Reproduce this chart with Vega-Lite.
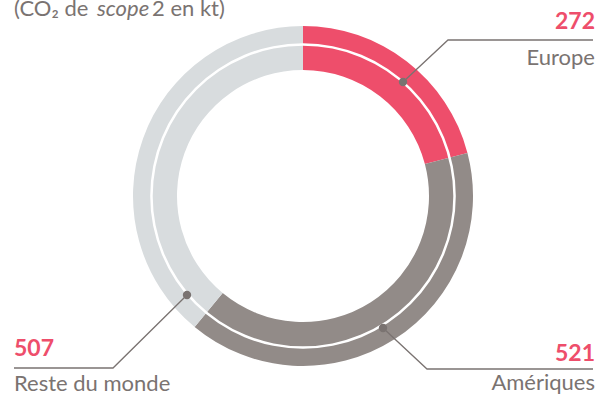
{
  "$schema": "https://vega.github.io/schema/vega-lite/v6.json",
  "width": 608,
  "height": 396,
  "autosize": "none",
  "padding": 0,
  "background": "white",
  "config": {"view": {"stroke": null}, "text": {"baseline": "alphabetic"}},
  "datasets": {
    "emissions": [
      {"region": "Europe", "valeur": 272, "rang": 1},
      {"region": "Amériques", "valeur": 521, "rang": 2},
      {"region": "Reste du monde", "valeur": 507, "rang": 3}
    ],
    "traits": [
      {"region": "Europe", "etape": 1, "x": 100, "y": 114},
      {"region": "Europe", "etape": 2, "x": 145, "y": 156},
      {"region": "Europe", "etape": 3, "x": 290, "y": 156},
      {"region": "Amériques", "etape": 1, "x": 80, "y": -132},
      {"region": "Amériques", "etape": 2, "x": 124, "y": -173},
      {"region": "Amériques", "etape": 3, "x": 290, "y": -173},
      {"region": "Reste du monde", "etape": 1, "x": -116, "y": -99},
      {"region": "Reste du monde", "etape": 2, "x": -190, "y": -172},
      {"region": "Reste du monde", "etape": 3, "x": -289, "y": -172}
    ],
    "etiquettes": [
      {"region": "Europe", "x": 292, "y_nombre": 167, "y_nom": 131, "cote": "droite"},
      {"region": "Amériques", "x": 292, "y_nombre": -165, "y_nom": -194, "cote": "droite"},
      {"region": "Reste du monde", "x": -289, "y_nombre": -160, "y_nom": -195, "cote": "gauche"}
    ],
    "titre": [
      {"texte": "(CO₂ de", "x": -289, "y": 180, "italique": false},
      {"texte": "scope", "x": -206, "y": 180, "italique": true},
      {"texte": "2 en kt)", "x": -151, "y": 180, "italique": false}
    ]
  },
  "layer": [
    {
      "data": {"name": "emissions"},
      "mark": {"type": "arc", "outerRadius": 170, "innerRadius": 126},
      "encoding": {
        "x": {"datum": 0, "type": "quantitative", "scale": {"domain": [-303, 305], "nice": false, "zero": false}, "axis": null},
        "y": {"datum": 0, "type": "quantitative", "scale": {"domain": [-200, 196], "nice": false, "zero": false}, "axis": null},
        "theta": {"field": "valeur", "type": "quantitative", "stack": true},
        "order": {"field": "rang", "type": "quantitative"},
        "color": {
          "field": "region",
          "type": "nominal",
          "scale": {"domain": ["Europe", "Amériques", "Reste du monde"], "range": ["#EE4E6B", "#928B88", "#D8DCDE"]},
          "legend": null
        }
      }
    },
    {
      "data": {"name": "emissions"},
      "mark": {"type": "arc", "outerRadius": 152.8, "innerRadius": 150.3, "color": "white"},
      "encoding": {
        "x": {"datum": 0, "type": "quantitative", "scale": {"domain": [-303, 305], "nice": false, "zero": false}, "axis": null},
        "y": {"datum": 0, "type": "quantitative", "scale": {"domain": [-200, 196], "nice": false, "zero": false}, "axis": null},
        "theta": {"aggregate": "sum", "field": "valeur", "type": "quantitative", "stack": true}
      }
    },
    {
      "data": {"name": "traits"},
      "mark": {"type": "line", "color": "#7A7371", "strokeWidth": 1.3},
      "encoding": {
        "x": {"field": "x", "type": "quantitative", "scale": {"domain": [-303, 305], "nice": false, "zero": false}, "axis": null},
        "y": {"field": "y", "type": "quantitative", "scale": {"domain": [-200, 196], "nice": false, "zero": false}, "axis": null},
        "detail": {"field": "region"},
        "order": {"field": "etape", "type": "quantitative"}
      }
    },
    {
      "data": {"name": "traits"},
      "transform": [{"filter": "datum.etape === 1"}],
      "mark": {"type": "point", "filled": true, "opacity": 1, "size": 70, "color": "#7A7371"},
      "encoding": {
        "x": {"field": "x", "type": "quantitative", "scale": {"domain": [-303, 305], "nice": false, "zero": false}, "axis": null},
        "y": {"field": "y", "type": "quantitative", "scale": {"domain": [-200, 196], "nice": false, "zero": false}, "axis": null}
      }
    },
    {
      "data": {"name": "etiquettes"},
      "transform": [
        {"lookup": "region", "from": {"data": {"name": "emissions"}, "key": "region", "fields": ["valeur"]}},
        {"filter": "datum.cote === 'droite'"}
      ],
      "layer": [
        {
          "mark": {"type": "text", "align": "right", "baseline": "alphabetic", "font": "Lato", "fontSize": 23, "fontWeight": "bold", "color": "#EE4E6B"},
          "encoding": {
            "x": {"field": "x", "type": "quantitative", "scale": {"domain": [-303, 305], "nice": false, "zero": false}, "axis": null},
            "y": {"field": "y_nombre", "type": "quantitative", "scale": {"domain": [-200, 196], "nice": false, "zero": false}, "axis": null},
            "text": {"field": "valeur", "type": "quantitative", "format": "d"}
          }
        },
        {
          "mark": {"type": "text", "align": "right", "baseline": "alphabetic", "font": "Lato", "fontSize": 22, "color": "#7A7371"},
          "encoding": {
            "x": {"field": "x", "type": "quantitative", "scale": {"domain": [-303, 305], "nice": false, "zero": false}, "axis": null},
            "y": {"field": "y_nom", "type": "quantitative", "scale": {"domain": [-200, 196], "nice": false, "zero": false}, "axis": null},
            "text": {"field": "region", "type": "nominal"}
          }
        }
      ]
    },
    {
      "data": {"name": "etiquettes"},
      "transform": [
        {"lookup": "region", "from": {"data": {"name": "emissions"}, "key": "region", "fields": ["valeur"]}},
        {"filter": "datum.cote === 'gauche'"}
      ],
      "layer": [
        {
          "mark": {"type": "text", "align": "left", "baseline": "alphabetic", "font": "Lato", "fontSize": 23, "fontWeight": "bold", "color": "#EE4E6B"},
          "encoding": {
            "x": {"field": "x", "type": "quantitative", "scale": {"domain": [-303, 305], "nice": false, "zero": false}, "axis": null},
            "y": {"field": "y_nombre", "type": "quantitative", "scale": {"domain": [-200, 196], "nice": false, "zero": false}, "axis": null},
            "text": {"field": "valeur", "type": "quantitative", "format": "d"}
          }
        },
        {
          "mark": {"type": "text", "align": "left", "baseline": "alphabetic", "font": "Lato", "fontSize": 22, "color": "#7A7371"},
          "encoding": {
            "x": {"field": "x", "type": "quantitative", "scale": {"domain": [-303, 305], "nice": false, "zero": false}, "axis": null},
            "y": {"field": "y_nom", "type": "quantitative", "scale": {"domain": [-200, 196], "nice": false, "zero": false}, "axis": null},
            "text": {"field": "region", "type": "nominal"}
          }
        }
      ]
    },
    {
      "data": {"name": "titre"},
      "transform": [{"filter": "!datum.italique"}],
      "mark": {"type": "text", "align": "left", "baseline": "alphabetic", "font": "Lato", "fontSize": 22, "color": "#7A7371"},
      "encoding": {
        "x": {"field": "x", "type": "quantitative", "scale": {"domain": [-303, 305], "nice": false, "zero": false}, "axis": null},
        "y": {"field": "y", "type": "quantitative", "scale": {"domain": [-200, 196], "nice": false, "zero": false}, "axis": null},
        "text": {"field": "texte", "type": "nominal"}
      }
    },
    {
      "data": {"name": "titre"},
      "transform": [{"filter": "datum.italique"}],
      "mark": {"type": "text", "align": "left", "baseline": "alphabetic", "font": "Lato", "fontSize": 22, "fontStyle": "italic", "color": "#7A7371"},
      "encoding": {
        "x": {"field": "x", "type": "quantitative", "scale": {"domain": [-303, 305], "nice": false, "zero": false}, "axis": null},
        "y": {"field": "y", "type": "quantitative", "scale": {"domain": [-200, 196], "nice": false, "zero": false}, "axis": null},
        "text": {"field": "texte", "type": "nominal"}
      }
    }
  ]
}
